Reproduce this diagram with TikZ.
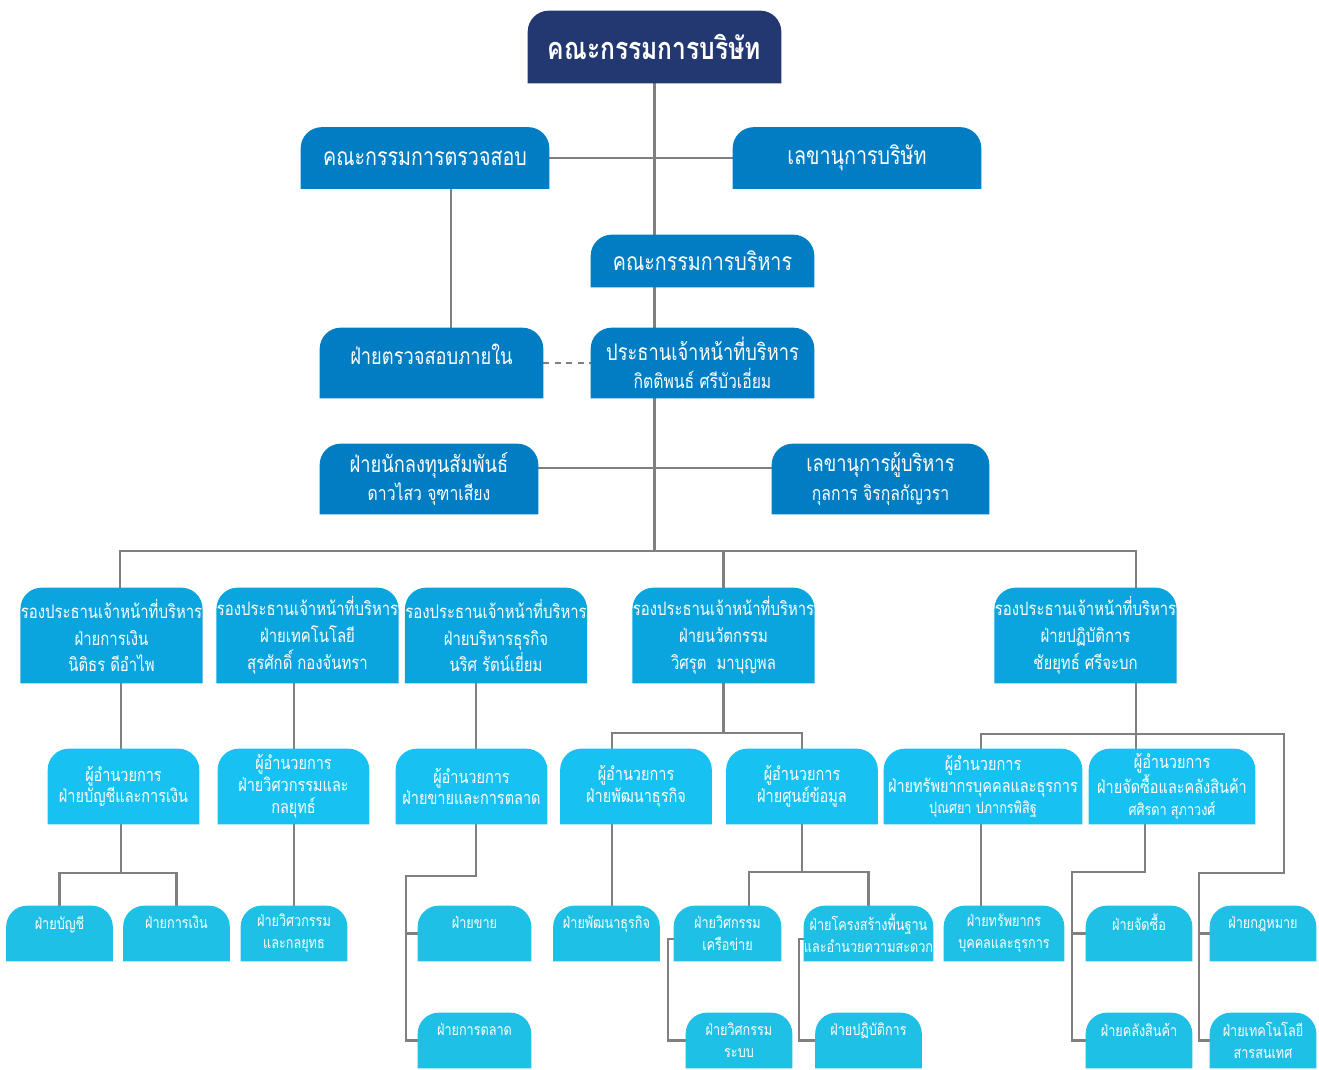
\documentclass[tikz,border=0pt]{standalone}
\usepackage{fontspec}
\newfontfamily\thai[Script=Thai, FakeStretch=0.8]{Loma}
\usetikzlibrary{positioning}

\definecolor{navy}{RGB}{35,56,112}
\definecolor{midblue}{RGB}{0,125,195}
\definecolor{vpblue}{RGB}{10,165,222}
\definecolor{dirblue}{RGB}{23,193,242}
\definecolor{leafblue}{RGB}{30,192,230}
\definecolor{linegray}{RGB}{128,128,130}

\pgfdeclarelayer{lines}
\pgfdeclarelayer{boxes}
\pgfsetlayers{lines,boxes,main}

\tikzset{
  box/.style={rectangle, inner sep=0pt, align=center, text=white},
  lvl0/.style={box, minimum width=5.06cm, minimum height=1.44cm, font=\thai\bfseries\fontsize{17.5}{20}\selectfont},
  lvl1/.style={box, minimum width=4.96cm, minimum height=1.22cm, font=\thai\fontsize{14}{16}\selectfont},
  lvl2/.style={box, minimum width=4.46cm, minimum height=1.4cm, font=\thai\fontsize{13}{16}\selectfont},
  vp/.style={box, minimum width=3.58cm, minimum height=1.9cm, font=\thai\fontsize{10.6}{15.3}\selectfont},
  dir/.style={box, minimum width=3.02cm, minimum height=1.5cm, font=\thai\fontsize{10.3}{12.5}\selectfont},
  leaf/.style={box, minimum width=2.12cm, minimum height=1.1cm, font=\thai\fontsize{9}{12.5}\selectfont},
  conn/.style={draw=linegray, line width=1.2pt},
}

\begin{document}
\begin{tikzpicture}[x=0.02cm, y=0.02cm]
\useasboundingbox (0,0) rectangle (1319,-1069);

% top of the chart
\node[lvl0] (board) at (654.5,-47) {คณะกรรมการบริษัท};
\node[lvl1] (audit) at (425,-158) {คณะกรรมการตรวจสอบ};
\node[lvl1] (cosec) at (857,-158) {เลขานุการบริษัท};
\node[lvl1, minimum width=4.46cm, minimum height=1.04cm] (exco) at (702.5,-261) {คณะกรรมการบริหาร};
\node[lvl2] (intaudit) at (431.5,-363) {ฝ่ายตรวจสอบภายใน\\[-6pt]\mbox{}};
\node[lvl2] (ceo) at (702.5,-363) {ประธานเจ้าหน้าที่บริหาร\\{\fontsize{11.2}{12}\selectfont กิตติพนธ์ ศรีบัวเอี่ยม}};
\node[lvl2, minimum width=4.36cm] (ir) at (429,-479) {ฝ่ายนักลงทุนสัมพันธ์\\{\fontsize{11.2}{12}\selectfont ดาวไสว จุฑาเสียง}};
\node[lvl2, minimum width=4.34cm] (exsec) at (880.5,-479) {เลขานุการผู้บริหาร\\{\fontsize{11.2}{12}\selectfont กุลการ จิรกุลกัญวรา}};

% vice presidents
\node[vp] (vp1) at (111.5,-635.5) {รองประธานเจ้าหน้าที่บริหาร\\ฝ่ายการเงิน\\นิติธร ดีอำไพ};
\node[vp] (vp2) at (307.5,-635.5) {รองประธานเจ้าหน้าที่บริหาร\\ฝ่ายเทคโนโลยี\\สุรศักดิ์ กองจันทรา};
\node[vp] (vp3) at (496,-635.5) {รองประธานเจ้าหน้าที่บริหาร\\ฝ่ายบริหารธุรกิจ\\นริศ รัตน์เยี่ยม};
\node[vp] (vp4) at (723.5,-635.5) {รองประธานเจ้าหน้าที่บริหาร\\ฝ่ายนวัตกรรม\\วิศรุต\ \ มาบุญพล};
\node[vp] (vp5) at (1085.5,-635.5) {รองประธานเจ้าหน้าที่บริหาร\\ฝ่ายปฏิบัติการ\\ชัยยุทธ์ ศรีจะบก};

% directors
\node[dir] (d1) at (123.5,-786.5) {ผู้อำนวยการ\\ฝ่ายบัญชีและการเงิน};
\node[dir] (d2) at (293.5,-786.5) {ผู้อำนวยการ\\ฝ่ายวิศวกรรมและ\\กลยุทธ์};
\node[dir] (d3) at (471.5,-786.5) {ผู้อำนวยการ\\ฝ่ายขายและการตลาด};
\node[dir] (d4) at (636,-786.5) {ผู้อำนวยการ\\ฝ่ายพัฒนาธุรกิจ};
\node[dir] (d5) at (802,-786.5) {ผู้อำนวยการ\\ฝ่ายศูนย์ข้อมูล};
\node[dir, minimum width=3.96cm] (d6) at (983,-786.5) {ผู้อำนวยการ\\ฝ่ายทรัพยากรบุคคลและธุรการ\\{\fontsize{9}{10}\selectfont ปุณศยา ปภากรพิสิฐ}};
\node[dir, minimum width=3.32cm] (d7) at (1172,-786.5) {ผู้อำนวยการ\\ฝ่ายจัดซื้อและคลังสินค้า\\{\fontsize{9}{10}\selectfont ศศิรดา สุภาวงศ์}};

% units
\node[leaf] (u1) at (59.5,-933.5) {ฝ่ายบัญชี\\~};
\node[leaf] (u2) at (176.5,-933.5) {ฝ่ายการเงิน\\~};
\node[leaf] (u3) at (294,-933.5) {ฝ่ายวิศวกรรม\\และกลยุทธ};
\node[leaf, minimum width=2.26cm] (u4) at (474.5,-933.5) {ฝ่ายขาย\\~};
\node[leaf, minimum width=2.26cm] (u5) at (474.5,-1040.5) {ฝ่ายการตลาด\\~};
\node[leaf] (u6) at (606.5,-933.5) {ฝ่ายพัฒนาธุรกิจ\\~};
\node[leaf, minimum width=2.14cm] (u7) at (727.5,-933.5) {ฝ่ายวิศกรรม\\เครือข่าย};
\node[leaf, minimum width=2.54cm] (u8) at (868.5,-933.5) {ฝ่ายโครงสร้างพื้นฐาน\\และอำนวยความสะดวก};
\node[leaf] (u9) at (739,-1040.5) {ฝ่ายวิศกรรม\\ระบบ};
\node[leaf] (u10) at (868.5,-1040.5) {ฝ่ายปฏิบัติการ\\~};
\node[leaf, minimum width=2.4cm] (u11) at (1004,-933.5) {ฝ่ายทรัพยากร\\บุคคลและธุรการ};
\node[leaf] (u12) at (1139,-933.5) {ฝ่ายจัดซื้อ\\~};
\node[leaf] (u13) at (1139,-1040.5) {ฝ่ายคลังสินค้า\\~};
\node[leaf] (u14) at (1263,-933.5) {ฝ่ายกฎหมาย\\~};
\node[leaf] (u15) at (1263,-1040.5) {ฝ่ายเทคโนโลยี\\สารสนเทศ};

% junctions
\coordinate (busL) at (120,-551);
\coordinate (busR) at (1136,-551);
\coordinate (j1) at (121,-873);
\coordinate (j3) at (476,-876);
\coordinate (j3b) at (406,-876);
\coordinate (j4) at (612,-733);
\coordinate (j5) at (749,-872);
\coordinate (j7) at (668,-939);
\coordinate (j8) at (799,-939);
\coordinate (j6) at (981,-734);
\coordinate (j6r) at (1284,-734);
\coordinate (x7) at (1145,-872);
\coordinate (j7b) at (1072,-872);
\coordinate (j9) at (1199,-873);

\begin{pgfonlayer}{boxes}
\foreach \n/\c in {board/navy, audit/midblue, cosec/midblue, exco/midblue, intaudit/midblue, ceo/midblue, ir/midblue, exsec/midblue,
  vp1/vpblue, vp2/vpblue, vp3/vpblue, vp4/vpblue, vp5/vpblue,
  d1/dirblue, d2/dirblue, d3/dirblue, d4/dirblue, d5/dirblue, d6/dirblue, d7/dirblue,
  u1/leafblue, u2/leafblue, u3/leafblue, u4/leafblue, u5/leafblue, u6/leafblue, u7/leafblue, u8/leafblue,
  u9/leafblue, u10/leafblue, u11/leafblue, u12/leafblue, u13/leafblue, u14/leafblue, u15/leafblue}
  \fill[\c] (\n.south west) [rounded corners=12pt] -- (\n.north west) -- (\n.north east) [sharp corners] -- (\n.south east) -- cycle;
\end{pgfonlayer}

\begin{pgfonlayer}{lines}
\draw[conn] (board) -- (board |- busL);
\draw[conn] (audit) -- (cosec);
\draw[conn] ([xshift=0.52cm]audit.south) -- ([xshift=0.52cm]audit.south |- intaudit.north);
\draw[conn, dash pattern=on 3.5pt off 3pt] (intaudit) -- (ceo);
\draw[conn] ([yshift=0.22cm]ir.east) -- ([yshift=0.22cm]exsec.west);
\draw[conn] (vp1.north -| busL) |- (busR) -- (busR |- d7.north);
\draw[conn] (vp4.north) -- (vp4.north |- busL);
% finance
\draw[conn] (vp1.south -| j1) -- (j1);
\draw[conn] (u1.north) |- (j1) -| (u2.north);
% technology
\draw[conn] (vp2.south -| u3.north) -- (u3.north);
% business
\draw[conn] (vp3.south -| j3) -- (d3.north -| j3);
\draw[conn] (d3.south -| j3) -- (j3) -- (j3b) |- (u5.west);
\draw[conn] (j3b |- u4.west) -- (u4.west);
% innovation
\draw[conn] (vp4.south) -- (vp4.south |- j4);
\draw[conn] (d4.north -| j4) -- (j4) -| (d5.north);
\draw[conn] (d4.south -| j4) -- (u6.north -| j4);
\draw[conn] (d5.south) -- (d5.south |- j5);
\draw[conn] (u7.north -| j5) -- (j5) -| (u8.north);
\draw[conn] (u7.west |- j7) -- (j7) |- (u9.west);
\draw[conn] (u8.west |- j8) -- (j8) |- (u10.west);
% operations
\draw[conn] (d6.north -| j6) -- (j6) -- (j6r) |- (j9) |- (u15.west);
\draw[conn] (j9 |- u14.west) -- (u14.west);
\draw[conn] (d6.south -| j6) -- (u11.north -| j6);
\draw[conn] (d7.south -| x7) -- (x7) -- (j7b) |- (u13.west);
\draw[conn] (j7b |- u12.west) -- (u12.west);
\end{pgfonlayer}
\end{tikzpicture}
\end{document}
